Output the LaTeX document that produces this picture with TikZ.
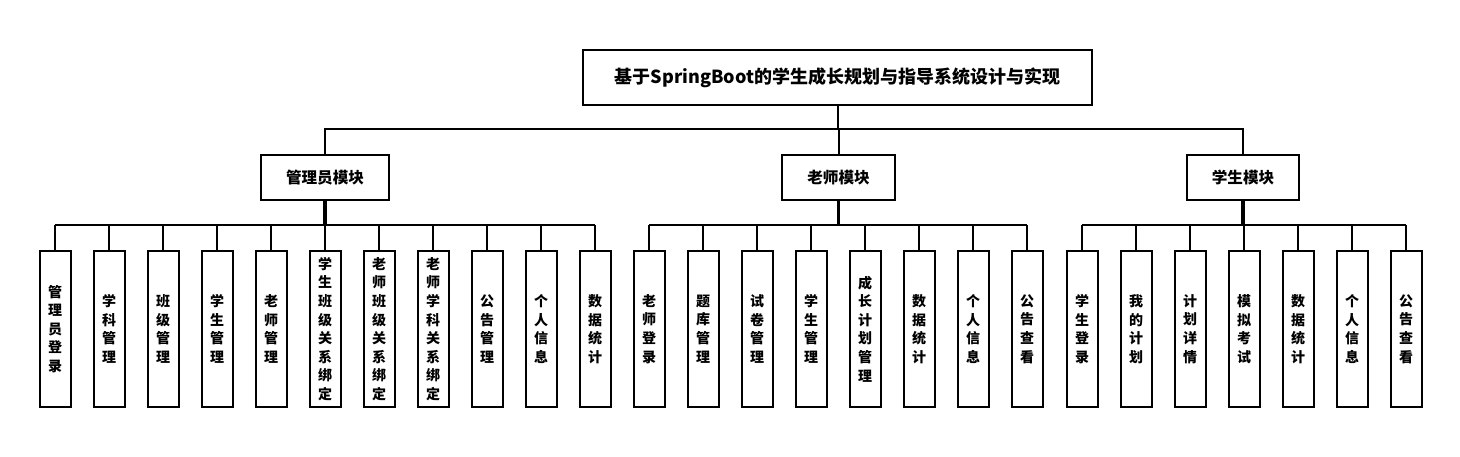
\documentclass[tikz,border=0pt]{standalone}
\usepackage{fontspec}
\newfontfamily\cjk{Noto Sans CJK SC}
\begin{document}
\begin{tikzpicture}[x=0.5pt,y=-0.5pt,
  box/.style={draw=black,line width=1pt,fill=white,inner sep=0pt,font=\cjk\bfseries},
  titlebox/.style={box,minimum width=254.5pt,minimum height=27.5pt,font=\cjk\bfseries\fontsize{9}{11}\selectfont},
  modbox/.style={box,minimum width=64pt,minimum height=22.5pt,font=\cjk\bfseries\fontsize{7.8}{10}\selectfont},
  leaf/.style={box,minimum width=15.5pt,minimum height=78pt,anchor=north,align=center,font=\cjk\bfseries\fontsize{7}{9.3}\selectfont},
  conn/.style={draw=black,line width=1pt},
  stem/.style={draw=black,line width=1.8pt}]
\path[use as bounding box,fill=white] (0,0) rectangle (1460,456);
% title
\node[titlebox] (T) at (837.5,77.5) {基于SpringBoot的学生成长规划与指导系统设计与实现};
% modules
\node[modbox] (A) at (325,177.5) {管理员模块};
\node[modbox,minimum width=56.5pt] (B) at (838.5,177.5) {老师模块};
\node[modbox,minimum width=56pt] (C) at (1243,177.5) {学生模块};
\coordinate (tb) at (838,129);
\draw[conn] (T.south) -- (T.south |- tb);
\draw[conn] (A.north) -- (A.north |- tb) -- (C.north |- tb) -- (C.north);
\draw[conn] (B.north) -- (B.north |- tb);
% admin leaves
\coordinate (ab) at (325,225);
\foreach \t [count=\i] in {管\\理\\员\\登\\录, 学\\科\\管\\理, 班\\级\\管\\理, 学\\生\\管\\理, 老\\师\\管\\理, 学\\生\\班\\级\\关\\系\\绑\\定, 老\\师\\班\\级\\关\\系\\绑\\定, 老\\师\\学\\科\\关\\系\\绑\\定, 公\\告\\管\\理, 个\\人\\信\\息, 数\\据\\统\\计}{
  \node[leaf] (a\i) at ({55+54*(\i-1)},250) {\t};
  \draw[conn] (a\i.north) -- (a\i.north |- ab);
}
\draw[conn] (a1.north |- ab) -- (a11.north |- ab);
\draw[stem] (A.south) -- (A.south |- ab);
% teacher leaves
\coordinate (bb) at (838,225);
\foreach \t [count=\i] in {老\\师\\登\\录, 题\\库\\管\\理, 试\\卷\\管\\理, 学\\生\\管\\理, 成\\长\\计\\划\\管\\理, 数\\据\\统\\计, 个\\人\\信\\息, 公\\告\\查\\看}{
  \node[leaf] (b\i) at ({649+54*(\i-1)},250) {\t};
  \draw[conn] (b\i.north) -- (b\i.north |- bb);
}
\draw[conn] (b1.north |- bb) -- (b8.north |- bb);
\draw[stem] (B.south) -- (B.south |- bb);
% student leaves
\coordinate (cb) at (1243,225);
\foreach \t [count=\i] in {学\\生\\登\\录, 我\\的\\计\\划, 计\\划\\详\\情, 模\\拟\\考\\试, 数\\据\\统\\计, 个\\人\\信\\息, 公\\告\\查\\看}{
  \node[leaf] (c\i) at ({1082+54*(\i-1)},250) {\t};
  \draw[conn] (c\i.north) -- (c\i.north |- cb);
}
\draw[conn] (c1.north |- cb) -- (c7.north |- cb);
\draw[stem] (C.south) -- (C.south |- cb);
\end{tikzpicture}
\end{document}
